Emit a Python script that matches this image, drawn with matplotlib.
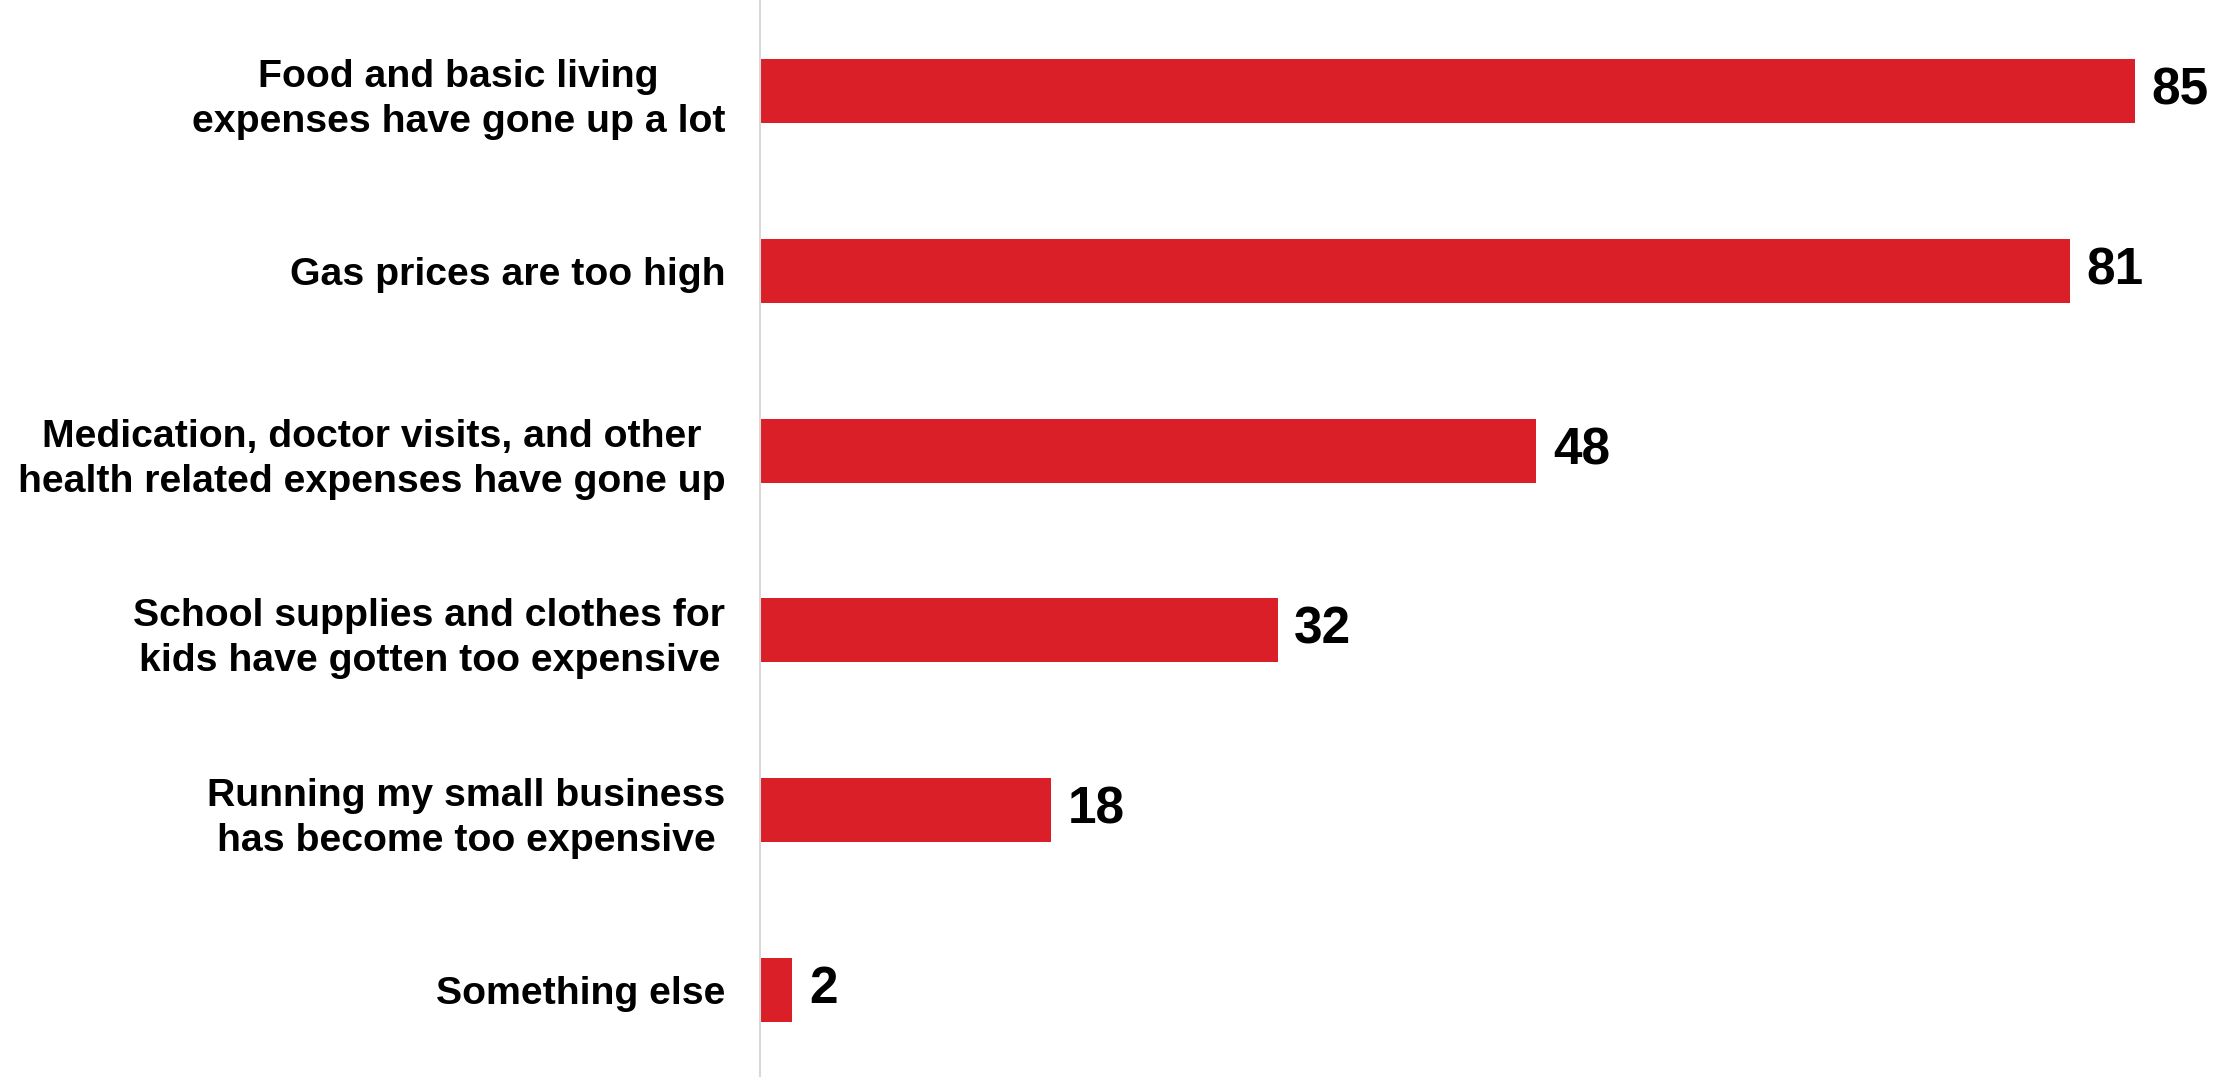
import matplotlib
matplotlib.use("Agg")
import matplotlib.pyplot as plt

categories = [
    "Food and basic living\nexpenses have gone up a lot",
    "Gas prices are too high",
    "Medication, doctor visits, and other\nhealth related expenses have gone up",
    "School supplies and clothes for\nkids have gotten too expensive",
    "Running my small business\nhas become too expensive",
    "Something else",
]
values = [85, 81, 48, 32, 18, 2]

plt.rcParams['font.family'] = ['Liberation Sans', 'DejaVu Sans']

fig = plt.figure(figsize=(22.14, 10.77), dpi=100)
ax = fig.add_axes([760 / 2214, 0, 1 - 760 / 2214, 1])

y = list(range(len(categories)))
bars = ax.barh(y, values, height=0.356, color='#DA1F28')
ax.bar_label(bars, labels=[str(v) for v in values], padding=12,
             fontsize=37, fontweight='bold', color='black')

ax.set_ylim(5.484, -0.506)
ax.set_xlim(0, 89.9)
ax.set_yticks(y)
ax.set_yticklabels(categories, fontsize=28.3, fontweight='bold',
                   linespacing=1.32, color='black', multialignment='center')
ax.tick_params(axis='y', length=0, pad=25)
ax.set_xticks([])
for s in ['top', 'right', 'bottom']:
    ax.spines[s].set_visible(False)
ax.spines['left'].set_color('#D9D9D9')
ax.spines['left'].set_linewidth(1.5)

fig.savefig('out.png', dpi=100, facecolor='white')
